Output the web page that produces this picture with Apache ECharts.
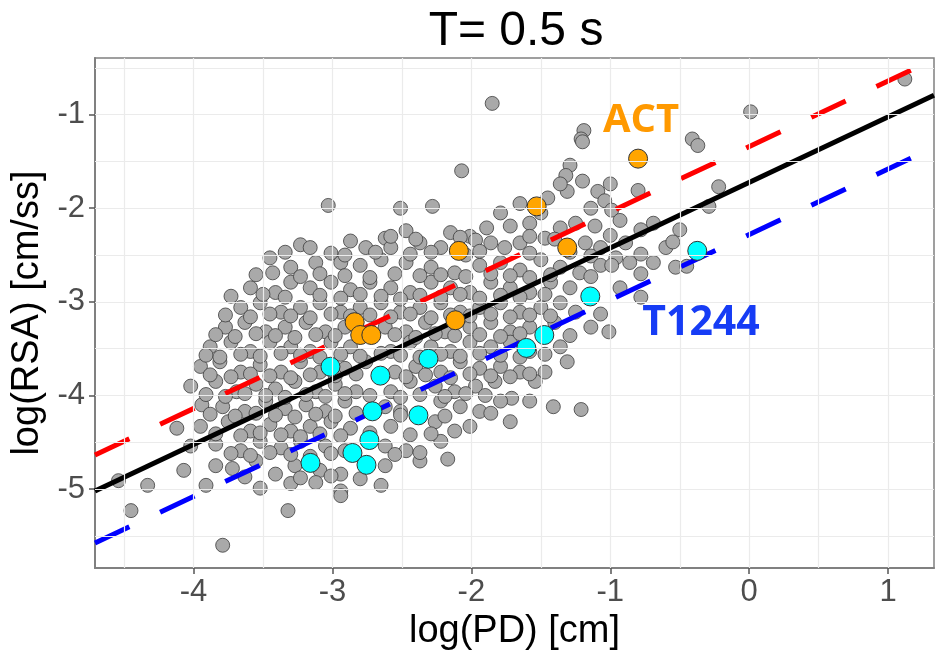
<!DOCTYPE html>
<html>
<head>
<meta charset="utf-8">
<title>T= 0.5 s</title>
<script src="https://cdn.jsdelivr.net/npm/echarts@6/dist/echarts.min.js"></script>
<style>
  html, body { margin: 0; padding: 0; background: #fff; }
  #chart { width: 935px; height: 656px; }
</style>
</head>
<body>
<div id="chart"></div>
<script>
// axis ranges and ticks
const xRange = [-4.709, 1.33];
const yRange = [-5.844, -0.395];
const xTicks = [-4, -3, -2, -1, 0, 1];
const yTicks = [-5, -4, -3, -2, -1];
const xGrid = [-4.5, -4, -3.5, -3, -2.5, -2, -1.5, -1, -0.5, 0, 0.5, 1];
const yGrid = [-5.5, -5, -4.5, -4, -3.5, -3, -2.5, -2, -1.5, -1, -0.5];

// all records [log(PD), log(RSA)]
const grayPoints = [
  [1.12,-0.62],[-1.85,-0.88],[0.01,-0.97],[-1.19,-1.17],[-1.21,-1.26],[-1.20,-1.29],
  [-0.41,-1.26],[-0.37,-1.33],[-1.29,-1.54],[-1.32,-1.65],[-1.20,-1.71],[-1.09,-1.82],
  [-1.31,-1.82],[-0.80,-1.81],[-0.22,-1.77],[-2.07,-1.60],[-1.36,-1.74],[-1.00,-1.74],
  [-3.03,-1.97],[-2.28,-1.98],[-2.51,-2.00],[-0.29,-1.98],[-1.65,-1.95],[-1.45,-1.89],
  [-1.04,-1.92],[-1.14,-2.00],[-0.99,-2.02],[-1.50,-2.05],[-1.79,-2.05],
  [-0.69,-2.16],[-0.50,-2.23],[-1.89,-2.21],[-1.72,-2.19],[-1.58,-2.16],[-1.36,-2.21],
  [-1.25,-2.16],[-1.11,-2.19],[-0.93,-2.13],[-0.78,-2.23],[-2.15,-2.26],[-2.01,-2.30],
  [-2.47,-2.24],[-2.62,-2.32],[-2.87,-2.35],[-3.23,-2.39],
  [-3.45,-2.53],[-3.16,-2.42],[-3.01,-2.48],[-2.76,-2.42],[-2.58,-2.42],[-2.37,-2.37],
  [-2.22,-2.42],[-1.86,-2.37],[-1.76,-2.42],[-1.65,-2.37],[-1.47,-2.32],[-1.18,-2.37],
  [-1.07,-2.42],[-0.89,-2.37],[-0.60,-2.42],[-1.14,-2.51],[-0.96,-2.53],
  [-3.43,-2.69],[-3.30,-2.63],[-3.12,-2.58],[-2.94,-2.58],[-2.80,-2.61],[-2.65,-2.55],
  [-2.47,-2.58],[-2.29,-2.63],[-2.12,-2.69],[-1.94,-2.61],[-1.79,-2.58],[-1.65,-2.66],
  [-1.50,-2.55],[-1.36,-2.63],[-1.22,-2.69],[-1.07,-2.61],[-0.99,-2.61],[-0.86,-2.58],
  [-0.69,-2.58],[-0.53,-2.63],[-0.45,-2.62],[-0.55,-2.36],
  [-3.59,-2.85],[-3.41,-2.90],[-3.30,-2.79],[-3.16,-2.85],[-3.01,-2.79],[-2.87,-2.87],
  [-2.73,-2.79],[-2.58,-2.85],[-2.44,-2.90],[-2.29,-2.79],[-2.15,-2.85],[-2.01,-2.90],
  [-1.86,-2.79],[-1.72,-2.85],[-1.58,-2.90],[-1.43,-2.79],[-1.29,-2.85],[-0.93,-2.85],
  [-3.66,-3.06],[-3.52,-3.01],[-3.37,-3.11],[-3.23,-3.06],[-3.09,-3.01],[-2.94,-3.11],
  [-2.80,-3.06],[-2.65,-3.01],[-2.51,-3.11],[-2.37,-3.06],[-2.22,-3.01],[-2.08,-3.11],
  [-1.94,-3.06],[-1.79,-3.01],[-1.65,-3.11],[-1.50,-3.06],[-1.36,-3.01],[-1.25,-3.11],
  [-0.78,-2.95],
  [-3.77,-3.27],[-3.63,-3.22],[-3.48,-3.32],[-3.34,-3.27],[-3.19,-3.22],[-3.05,-3.32],
  [-2.91,-3.27],[-2.62,-3.27],[-2.47,-3.32],[-2.33,-3.22],[-2.19,-3.32],[-2.01,-3.27],
  [-1.86,-3.22],[-1.72,-3.32],[-1.58,-3.27],[-1.40,-3.22],[-1.14,-3.27],[-1.01,-3.32],
  [-3.88,-3.48],[-3.73,-3.43],[-3.59,-3.53],[-3.45,-3.43],[-3.30,-3.48],[-3.16,-3.53],
  [-3.01,-3.43],[-2.87,-3.48],[-2.58,-3.53],[-2.44,-3.43],[-2.29,-3.48],[-2.15,-3.53],
  [-2.01,-3.43],[-1.86,-3.48],[-1.72,-3.43],[-1.58,-3.53],[-1.36,-3.48],
  [-3.95,-3.69],[-3.81,-3.64],[-3.66,-3.75],[-3.52,-3.67],[-3.37,-3.75],[-3.23,-3.64],
  [-3.09,-3.75],[-2.91,-3.71],[-2.76,-3.64],[-2.55,-3.75],[-2.40,-3.69],[-2.22,-3.75],
  [-2.08,-3.64],[-1.94,-3.71],[-1.79,-3.69],[-1.65,-3.75],[-1.47,-3.75],[-1.31,-3.64],
  [-4.02,-3.90],[-3.84,-3.85],[-3.69,-3.96],[-3.55,-3.88],[-3.41,-3.93],[-3.27,-3.85],
  [-3.12,-3.96],[-2.98,-3.88],[-2.83,-3.96],[-2.58,-3.96],[-2.44,-3.85],[-2.26,-3.90],
  [-2.12,-3.96],[-1.97,-3.90],[-1.83,-3.85],[-1.71,-4.03],[-1.54,-3.85],
  [-3.94,-4.10],[-3.79,-4.12],[-3.63,-4.17],[-3.48,-4.06],[-3.34,-4.14],[-3.19,-4.10],
  [-3.05,-4.17],[-2.91,-4.06],[-2.62,-4.12],[-2.51,-4.17],[-2.22,-4.06],[-2.08,-4.12],
  [-1.94,-4.17],[-1.79,-4.06],[-1.41,-4.12],[-1.21,-4.15],[-1.58,-4.06],
  [-4.12,-4.35],[-3.95,-4.33],[-3.75,-4.28],[-3.59,-4.38],[-3.45,-4.31],[-3.30,-4.38],
  [-3.16,-4.33],[-3.01,-4.28],[-2.87,-4.35],[-2.58,-4.33],[-2.26,-4.28],[-2.12,-4.38],
  [-2.01,-4.33],[-1.72,-4.28],
  [-4.02,-4.54],[-3.84,-4.52],[-3.66,-4.59],[-3.52,-4.49],[-3.37,-4.56],[-3.23,-4.49],
  [-3.05,-4.54],[-2.91,-4.59],[-2.62,-4.54],[-2.47,-4.59],[-2.22,-4.49],
  [-4.07,-4.80],[-3.84,-4.75],[-3.72,-4.78],[-3.55,-4.70],[-3.41,-4.84],[-3.27,-4.75],
  [-3.09,-4.80],[-2.94,-4.84],[-2.62,-4.75],[-2.37,-4.70],[-2.17,-4.68],
  [-4.54,-4.91],[-4.33,-4.96],[-3.91,-4.96],[-3.52,-4.99],[-3.30,-4.94],[-3.12,-4.93],
  [-2.94,-5.02],[-2.65,-4.96],[-4.45,-5.23],[-3.32,-5.23],[-2.94,-5.07],[-3.79,-5.60],
  // dense core
  [-2.58,-2.30],[-2.40,-2.33],[-2.08,-2.31],[-1.97,-2.34],[-1.58,-2.30],[-1.40,-2.33],[-1.00,-2.29],
  [-3.34,-2.47],[-2.91,-2.50],[-2.69,-2.47],[-2.44,-2.49],[-2.29,-2.47],[-2.04,-2.50],
  [-1.94,-2.46],[-1.58,-2.48],[-1.29,-2.47],[-0.78,-2.49],
  [-3.55,-2.71],[-3.23,-2.73],[-3.09,-2.70],[-2.91,-2.72],[-2.73,-2.74],[-2.55,-2.70],
  [-2.37,-2.72],[-2.22,-2.71],[-2.04,-2.73],[-1.86,-2.70],[-1.72,-2.72],[-1.58,-2.74],
  [-1.43,-2.71],[-1.14,-2.73],[-0.78,-2.70],
  [-3.73,-2.94],[-3.50,-2.92],[-3.34,-2.95],[-3.09,-2.93],[-2.94,-2.96],[-2.80,-2.92],
  [-2.65,-2.94],[-2.51,-2.97],[-2.37,-2.93],[-2.22,-2.95],[-2.08,-2.92],[-1.94,-2.96],
  [-1.79,-2.93],[-1.65,-2.95],[-1.47,-2.92],[-1.14,-2.96],
  [-3.77,-3.14],[-3.59,-3.16],[-3.45,-3.13],[-3.30,-3.15],[-3.16,-3.17],[-3.01,-3.13],
  [-2.87,-3.15],[-2.73,-3.14],[-2.58,-3.16],[-2.44,-3.13],[-2.29,-3.17],[-2.15,-3.14],
  [-2.01,-3.15],[-1.86,-3.13],[-1.72,-3.16],[-1.58,-3.14],[-1.43,-3.15],[-1.07,-3.13],
  [-3.84,-3.35],[-3.70,-3.37],[-3.55,-3.34],[-3.41,-3.36],[-3.27,-3.38],[-3.12,-3.35],
  [-2.98,-3.36],[-2.55,-3.35],[-2.40,-3.38],[-2.26,-3.34],[-2.12,-3.36],[-1.94,-3.35],
  [-1.79,-3.37],[-1.65,-3.34],[-1.29,-3.36],
  [-3.91,-3.57],[-3.81,-3.59],[-3.66,-3.56],[-3.52,-3.58],[-3.37,-3.55],[-3.23,-3.57],
  [-3.09,-3.59],[-2.94,-3.56],[-2.80,-3.58],[-2.65,-3.55],[-2.51,-3.57],[-2.37,-3.59],
  [-2.22,-3.56],[-2.08,-3.58],[-1.94,-3.55],[-1.79,-3.57],[-1.65,-3.59],[-1.47,-3.56],
  [-3.88,-3.78],[-3.73,-3.80],[-3.59,-3.77],[-3.45,-3.79],[-3.30,-3.81],[-3.16,-3.78],
  [-2.98,-3.79],[-2.83,-3.77],[-2.47,-3.80],[-2.33,-3.78],[-2.15,-3.81],[-2.01,-3.77],
  [-1.86,-3.79],[-1.72,-3.80],[-1.58,-3.77],
  [-3.91,-3.99],[-3.77,-4.01],[-3.63,-3.98],[-3.48,-4.00],[-3.34,-4.02],[-3.19,-3.99],
  [-3.05,-4.01],[-2.91,-3.98],[-2.73,-4.00],[-2.51,-4.02],[-2.37,-3.99],[-2.19,-4.01],
  [-2.04,-3.98],[-1.90,-4.00],
  [-3.88,-4.20],[-3.70,-4.22],[-3.55,-4.19],[-3.41,-4.21],[-3.27,-4.23],[-3.12,-4.20],
  [-2.98,-4.22],[-2.83,-4.19],[-2.51,-4.21],[-2.37,-4.20],[-2.19,-4.22],[-1.86,-4.19],
  [-3.84,-4.41],[-3.66,-4.43],[-3.52,-4.40],[-3.37,-4.42],[-3.23,-4.44],[-3.09,-4.41],
  [-2.94,-4.43],[-2.73,-4.40],[-2.44,-4.42],[-2.29,-4.41],
  [-3.73,-4.62],[-3.59,-4.64],[-3.45,-4.61],[-3.30,-4.63],[-3.16,-4.65],[-3.01,-4.62],
  [-2.55,-4.63],[-2.37,-4.61],
  [-3.63,-4.87],[-3.23,-4.88],[-3.01,-4.86],[-2.80,-4.89]
];

// ACT records
const actPoints = [
  [-0.80,-1.47],[-1.53,-1.98],[-2.09,-2.455],[-1.31,-2.42],
  [-2.115,-3.196],[-2.84,-3.217],[-2.80,-3.354],[-2.72,-3.354]
];

// T1244 records
const t1244Points = [
  [-0.374,-2.455],[-1.144,-2.942],[-1.475,-3.354],[-1.604,-3.492],[-2.309,-3.608],
  [-3.014,-3.693],[-2.655,-3.788],[-2.712,-4.169],[-2.381,-4.212],[-2.734,-4.476],
  [-2.856,-4.614],[-2.755,-4.741],[-3.158,-4.720]
];

// fitted lines: log(RSA) = intercept + slope * log(PD)
const slope = 0.70;
const interceptMean = -1.724;
const interceptUpper = -1.34;
const interceptLower = -2.28;

function fitLine(b) {
  return xRange.map(x => [x, b + slope * x]);
}

const FONT = 'Liberation Sans, Arial, sans-serif';

const chart = echarts.init(document.getElementById('chart'), null, { renderer: 'canvas' });

const option = {
  animation: false,
  backgroundColor: '#ffffff',
  grid: {
    left: 95, right: 1, top: 58, bottom: 83,
    show: true, borderColor: '#808080', borderWidth: 1.5, backgroundColor: 'transparent'
  },
  graphic: [
    { type: 'text', x: 516, y: 32,
      style: { text: 'T= 0.5 s', font: '48px ' + FONT, fill: '#000', textAlign: 'center', textVerticalAlign: 'middle' } },
    { type: 'text', x: 641, y: 121, z: 10,
      style: { text: 'ACT', font: 'bold 40px "Open Sans", sans-serif', fill: '#FF9900', textAlign: 'center', textVerticalAlign: 'middle' } },
    { type: 'text', x: 701, y: 323, z: 10,
      style: { text: 'T1244', font: 'bold 41px "Open Sans", sans-serif', fill: '#163CF5', textAlign: 'center', textVerticalAlign: 'middle' } }
  ],
  xAxis: {
    type: 'value', min: xRange[0], max: xRange[1],
    name: 'log(PD) [cm]', nameLocation: 'middle', nameGap: 40,
    nameTextStyle: { fontSize: 38, color: '#000', fontFamily: FONT },
    splitLine: { show: false },
    axisLine: { show: true, onZero: false, lineStyle: { color: '#808080', width: 2 } },
    axisTick: { show: true, customValues: xTicks, length: 6, lineStyle: { color: '#555', width: 1.5 } },
    axisLabel: { customValues: xTicks, color: '#4d4d4d', fontSize: 31, fontFamily: FONT, margin: 9 }
  },
  yAxis: {
    type: 'value', min: yRange[0], max: yRange[1],
    name: 'log(RSA) [cm/ss]', nameLocation: 'middle', nameGap: 44,
    nameTextStyle: { fontSize: 38, color: '#000', fontFamily: FONT },
    splitLine: { show: false },
    axisLine: { show: true, onZero: false, lineStyle: { color: '#808080', width: 2 } },
    axisTick: { show: true, customValues: yTicks, length: 6, lineStyle: { color: '#555', width: 1.5 } },
    axisLabel: { customValues: yTicks, color: '#4d4d4d', fontSize: 31, fontFamily: FONT, margin: 10 }
  },
  series: [
    {
      name: 'grid', type: 'line', data: [], z: 0, silent: true,
      markLine: {
        silent: true, symbol: ['none', 'none'], label: { show: false }, animation: false,
        lineStyle: { color: '#ebebeb', width: 1.2, type: 'solid' },
        data: xGrid.map(v => ({ xAxis: v })).concat(yGrid.map(v => ({ yAxis: v })))
      }
    },
    {
      name: 'all', type: 'scatter', data: grayPoints, symbolSize: 14, z: 2,
      itemStyle: { color: '#a9a9a9', borderColor: '#3c3c3c', borderWidth: 0.8, opacity: 1 }
    },
    {
      name: 'upper', type: 'line', data: fitLine(interceptUpper), showSymbol: false, z: 3,
      lineStyle: { color: '#ff0000', width: 5, type: [38, 34], cap: 'butt' }
    },
    {
      name: 'lower', type: 'line', data: fitLine(interceptLower), showSymbol: false, z: 3,
      lineStyle: { color: '#0000ff', width: 5, type: [38, 34], cap: 'butt' }
    },
    {
      name: 'mean', type: 'line', data: fitLine(interceptMean), showSymbol: false, z: 3,
      lineStyle: { color: '#000000', width: 5 }
    },
    {
      name: 'ACT', type: 'scatter', data: actPoints, symbolSize: 19, z: 4,
      itemStyle: { color: '#FFA500', borderColor: '#333', borderWidth: 1, opacity: 1 }
    },
    {
      name: 'T1244', type: 'scatter', data: t1244Points, symbolSize: 19, z: 4,
      itemStyle: { color: '#00FFFF', borderColor: '#333', borderWidth: 1, opacity: 1 }
    }
  ]
};

chart.setOption(option);
</script>
</body>
</html>
